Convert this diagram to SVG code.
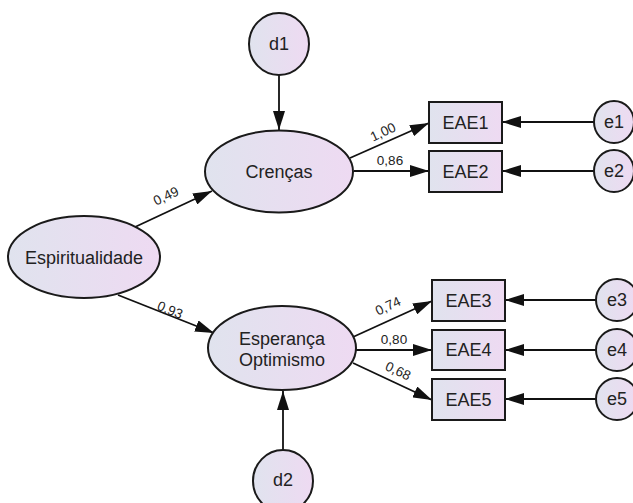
<svg xmlns="http://www.w3.org/2000/svg" width="633" height="503" viewBox="0 0 633 503">
<defs>
<linearGradient id="g" x1="0" y1="0" x2="1" y2="0">
<stop offset="0" stop-color="#e0e3ee"/>
<stop offset="1" stop-color="#eedaf2"/>
</linearGradient>
<marker id="ah" viewBox="0 0 19 12" refX="19" refY="6" markerWidth="19" markerHeight="12" markerUnits="userSpaceOnUse" orient="auto">
<path d="M0,0 L19,6 L0,12 z" fill="#111"/>
</marker>
<style>
.n{fill:url(#g);stroke:#1a1a1a;stroke-width:2}
.t{font-family:"Liberation Sans",Arial,sans-serif;font-size:18px;fill:#222;text-anchor:middle;dominant-baseline:central}
.l{font-family:"Liberation Sans",Arial,sans-serif;font-size:13.5px;fill:#222;text-anchor:middle;dominant-baseline:central}
.c{stroke:#111;stroke-width:1.8;fill:none;marker-end:url(#ah)}
</style>
</defs>
<rect width="633" height="503" fill="#fff"/>
<g id="connectors">
<line class="c" x1="279" y1="74" x2="279" y2="130"/>
<line class="c" x1="135" y1="227" x2="212" y2="191"/>
<line class="c" x1="118" y1="295" x2="214" y2="333"/>
<line class="c" x1="350" y1="158" x2="429" y2="123"/>
<line class="c" x1="354" y1="171" x2="429" y2="171"/>
<line class="c" x1="353" y1="337" x2="432" y2="301"/>
<line class="c" x1="356" y1="350" x2="432" y2="350"/>
<line class="c" x1="353" y1="363" x2="432" y2="400"/>
<line class="c" x1="283" y1="450" x2="283" y2="391"/>
<line class="c" x1="594" y1="122" x2="502" y2="122"/>
<line class="c" x1="594" y1="171" x2="502" y2="171"/>
<line class="c" x1="596" y1="300" x2="505" y2="300"/>
<line class="c" x1="596" y1="350" x2="505" y2="350"/>
<line class="c" x1="596" y1="399" x2="505" y2="399"/>
<text class="l" transform="translate(166,196) rotate(-25)">0,49</text>
<text class="l" transform="translate(170,310) rotate(22)">0,93</text>
<text class="l" transform="translate(383,132) rotate(-25)">1,00</text>
<text class="l" transform="translate(390,160)">0,86</text>
<text class="l" transform="translate(388,306) rotate(-25)">0,74</text>
<text class="l" transform="translate(394,339)">0,80</text>
<text class="l" transform="translate(398,371) rotate(25)">0,68</text>
</g>
<g id="d1"><ellipse class="n" cx="279" cy="44" rx="30" ry="31"/><text class="t" x="279" y="44">d1</text></g>
<g id="Crencas"><ellipse class="n" cx="279" cy="171.5" rx="74" ry="41"/><text class="t" x="279" y="171.5">Crenças</text></g>
<g id="Espiritualidade"><ellipse class="n" cx="84" cy="257" rx="76" ry="41"/><text class="t" x="84" y="258">Espiritualidade</text></g>
<g id="Esperanca"><ellipse class="n" cx="282" cy="348" rx="74" ry="42"/><text class="t" x="282" y="339">Esperança</text><text class="t" x="282" y="360">Optimismo</text></g>
<g id="d2"><ellipse class="n" cx="283" cy="481" rx="30" ry="31"/><text class="t" x="283" y="480">d2</text></g>
<g id="EAE1"><rect class="n" x="429" y="102" width="73" height="41"/><text class="t" x="465.5" y="122.5">EAE1</text></g>
<g id="EAE2"><rect class="n" x="429" y="151" width="73" height="41"/><text class="t" x="465.5" y="171.5">EAE2</text></g>
<g id="EAE3"><rect class="n" x="432" y="280" width="73" height="41"/><text class="t" x="468.5" y="300.5">EAE3</text></g>
<g id="EAE4"><rect class="n" x="432" y="330" width="73" height="40"/><text class="t" x="468.5" y="350">EAE4</text></g>
<g id="EAE5"><rect class="n" x="432" y="379" width="73" height="41"/><text class="t" x="468.5" y="399.5">EAE5</text></g>
<g id="e1"><ellipse class="n" cx="614" cy="122" rx="20" ry="21"/><text class="t" x="614" y="122">e1</text></g>
<g id="e2"><ellipse class="n" cx="614" cy="171" rx="20" ry="21"/><text class="t" x="614" y="171">e2</text></g>
<g id="e3"><ellipse class="n" cx="617" cy="300" rx="21" ry="21"/><text class="t" x="617" y="300">e3</text></g>
<g id="e4"><ellipse class="n" cx="617" cy="350" rx="21" ry="21"/><text class="t" x="617" y="350">e4</text></g>
<g id="e5"><ellipse class="n" cx="617" cy="399" rx="21" ry="21"/><text class="t" x="617" y="399">e5</text></g>
</svg>
